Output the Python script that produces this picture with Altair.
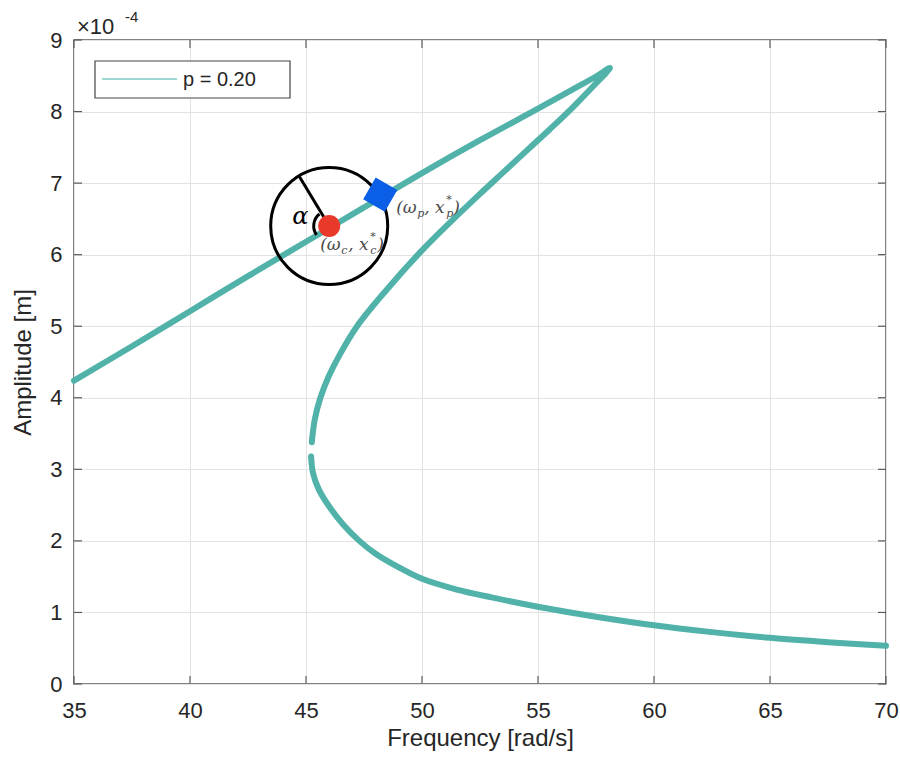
import altair as alt
import pandas as pd

series_label = "p = 0.20"

# upper branch + lower branch down to the small gap near the turning point
seg1_freq = [35.0, 37.5, 40.0, 42.5, 45.0, 47.5, 50.0, 52.5, 55.0, 56.5, 57.5, 58.1,
             57.4, 56.5, 55.5, 54.5, 53.5, 52.5, 51.3, 50.0, 48.45, 47.2, 46.45, 45.98, 45.62, 45.38, 45.25]
seg1_amp = [4.24, 4.72, 5.21, 5.70, 6.18, 6.66, 7.14, 7.60, 8.04, 8.31, 8.49, 8.61,
            8.36, 8.06, 7.75, 7.45, 7.15, 6.85, 6.48, 6.06, 5.50, 5.00, 4.60, 4.30, 4.00, 3.70, 3.38]
# lower branch below the gap
seg2_freq = [45.22, 45.30, 45.55, 46.0, 46.6, 47.3, 48.0, 49.0, 50.0, 51.5, 53.0, 55.0, 57.5,
             60.0, 62.5, 65.0, 67.5, 70.0]
seg2_amp = [3.18, 2.95, 2.72, 2.48, 2.23, 2.00, 1.82, 1.63, 1.47, 1.32, 1.21, 1.08, 0.94,
            0.82, 0.725, 0.645, 0.585, 0.535]

center_freq, center_amp = [46.0], [6.40]
probe_freq, probe_amp = [48.2], [6.84]
radius_freq, radius_amp = [46.0, 44.7], [6.40, 7.10]
alpha_freq, alpha_amp = [44.76], [6.52]

x_ticks = [35, 40, 45, 50, 55, 60, 65, 70]
y_ticks = [0, 1, 2, 3, 4, 5, 6, 7, 8, 9]

TEAL = "#50b2a9"
RED = "#e8392b"
BLUE = "#0a5fe6"
FRAME = "#5a5a5a"
TXT = "#262626"
W, H = 812, 644

rows = []
for s, (fs, as_) in enumerate([(seg1_freq, seg1_amp), (seg2_freq, seg2_amp)]):
    for i, (f, a) in enumerate(zip(fs, as_)):
        rows.append({"freq": f, "amp": a, "seg": s, "idx": i, "series": series_label})
curve_df = pd.DataFrame(rows)

center_df = pd.DataFrame({"freq": center_freq, "amp": center_amp})
probe_df = pd.DataFrame({"freq": probe_freq, "amp": probe_amp})
radius_df = pd.DataFrame({"freq": radius_freq[:1], "amp": radius_amp[:1],
                          "freq2": radius_freq[1:], "amp2": radius_amp[1:]})
alpha_df = pd.DataFrame({"freq": alpha_freq, "amp": alpha_amp})
xt_df = pd.DataFrame({"freq": x_ticks})
yt_df = pd.DataFrame({"amp": y_ticks})
legend_df = pd.DataFrame({"series": [series_label]})

xs = alt.X("freq:Q", scale=alt.Scale(domain=[35, 70], nice=False, zero=False),
           axis=alt.Axis(values=x_ticks, title="Frequency [rad/s]"))
ys = alt.Y("amp:Q", scale=alt.Scale(domain=[0, 9], nice=False, zero=False),
           axis=alt.Axis(values=y_ticks, title="Amplitude [m]"))

curve = alt.Chart(curve_df).mark_line(strokeWidth=6, interpolate="catmull-rom", strokeCap="round").encode(
    x=xs, y=ys,
    color=alt.Color("series:N", scale=alt.Scale(range=[TEAL]), legend=None),
    detail="seg:N", order="idx:Q")

big_circle = alt.Chart(center_df).mark_point(shape="circle", size=13689, filled=False,
                                             stroke="black", strokeWidth=3, opacity=1).encode(x=xs, y=ys)
radius_line = alt.Chart(radius_df).mark_rule(color="black", strokeWidth=3).encode(
    x=xs, y=ys, x2="freq2:Q", y2="amp2:Q")
arc = alt.Chart(center_df).mark_arc(theta=4.1, theta2=5.6, radius=17, radius2=14, color="black").encode(x=xs, y=ys)
red_dot = alt.Chart(center_df).mark_point(shape="circle", size=484, filled=True, color=RED, opacity=1).encode(x=xs, y=ys)
blue_sq = alt.Chart(probe_df).mark_point(shape="square", size=625, angle=30, filled=True, color=BLUE, opacity=1).encode(x=xs, y=ys)
alpha_txt = alt.Chart(alpha_df).mark_text(text="α", font="DejaVu Serif", fontStyle="italic", fontSize=24,
                                          color="black").encode(x=xs, y=ys)


def math_label(df, sub, dx0, dy0):
    pieces = [("(ω", 0, 0, 17), (sub, 21, 6, 11), (", x", 28, 0, 17),
              ("*", 50, -8, 11), (sub, 50, 6, 11), (")", 57, 0, 17)]
    layers = []
    for txt, dx, dy, fs in pieces:
        layers.append(alt.Chart(df).mark_text(text=txt, align="left", baseline="middle",
                                              font="DejaVu Serif", fontStyle="italic", fontSize=fs,
                                              color="#4a4a4a", dx=dx0 + dx, dy=dy0 + dy).encode(x=xs, y=ys))
    return layers


label_c = math_label(center_df, "c", -9, 19)
label_p = math_label(probe_df, "p", 16, 13)

tick_style = dict(color=FRAME, strokeWidth=1.2)
xt_bottom = alt.Chart(xt_df).mark_rule(**tick_style).encode(x=xs, y=alt.value(H), y2=alt.value(H - 8))
xt_top = alt.Chart(xt_df).mark_rule(**tick_style).encode(x=xs, y=alt.value(0), y2=alt.value(8))
yt_left = alt.Chart(yt_df).mark_rule(**tick_style).encode(y=ys, x=alt.value(0), x2=alt.value(8))
yt_right = alt.Chart(yt_df).mark_rule(**tick_style).encode(y=ys, x=alt.value(W), x2=alt.value(W - 8))

# legend box (MATLAB style), drawn in the plot's pixel frame
leg_box = alt.Chart(legend_df).mark_rect(fill="white", stroke="#444444", strokeWidth=1.2).encode(
    x=alt.value(21), x2=alt.value(216), y=alt.value(21), y2=alt.value(58))
leg_line = alt.Chart(legend_df).mark_rule(color="#7fcbc4", strokeWidth=1.5).encode(
    x=alt.value(28), x2=alt.value(103), y=alt.value(39))
leg_text = alt.Chart(legend_df).mark_text(align="left", baseline="middle", fontSize=20,
                                          font="Liberation Sans", color=TXT).encode(
    x=alt.value(109), y=alt.value(40), text="series:N")

one = pd.DataFrame({"k": [0]})
exp_main = alt.Chart(one).mark_text(text="×10", align="left", baseline="alphabetic", fontSize=22,
                                    font="Liberation Sans", color=TXT).encode(x=alt.value(3), y=alt.value(-6))
exp_sup = alt.Chart(one).mark_text(text="-4", align="left", baseline="alphabetic", fontSize=15,
                                   font="Liberation Sans", color=TXT).encode(x=alt.value(51), y=alt.value(-18))

chart = alt.layer(
    xt_bottom, xt_top, yt_left, yt_right,
    curve, big_circle, radius_line, arc, red_dot, blue_sq, alpha_txt,
    *label_c, *label_p, leg_box, leg_line, leg_text, exp_main, exp_sup
).properties(
    width=W, height=H,
    autosize=alt.AutoSizeParams(type="none"),
    padding={"left": 74, "top": 40, "right": 14, "bottom": 78},
).configure_view(
    stroke=FRAME, strokeWidth=1.5
).configure_axis(
    grid=True, gridColor="#e3e3e3", gridWidth=1, ticks=False, domain=False,
    labelFont="Liberation Sans", titleFont="Liberation Sans", labelFontSize=22, titleFontSize=24,
    labelColor=TXT, titleColor=TXT, titleFontWeight="normal",
    labelFlush=False, labelOverlap=False
).configure_axisX(
    labelPadding=16, titlePadding=5
).configure_axisY(
    labelPadding=12, titlePadding=14
)

chart.save("out.html", embed_options={"renderer": "svg", "actions": False})
